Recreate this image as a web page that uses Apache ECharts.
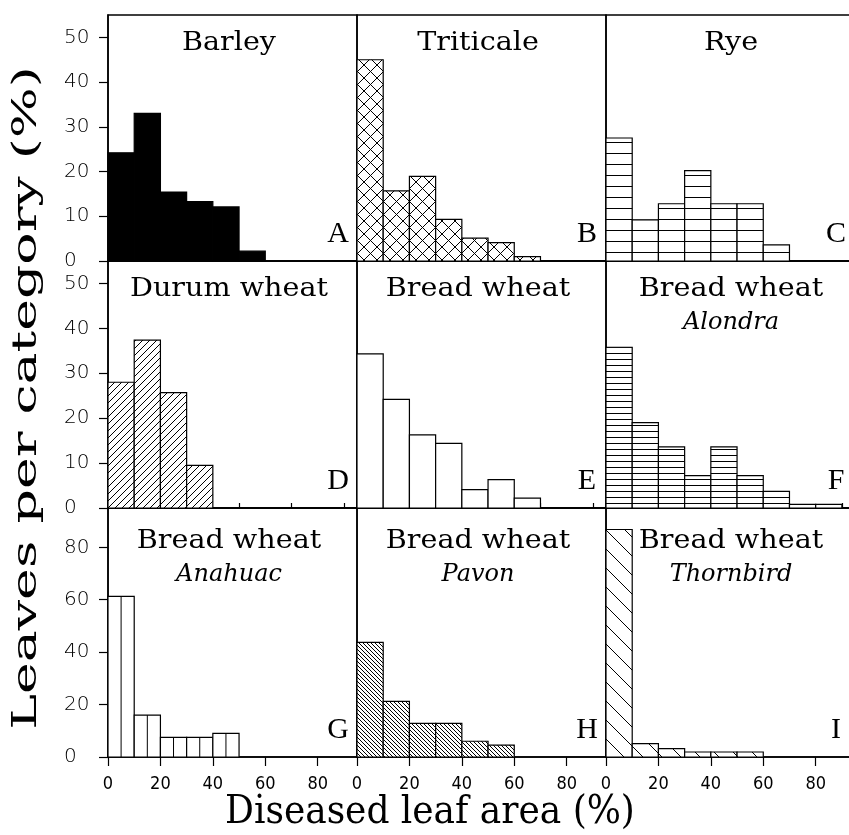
<!DOCTYPE html>
<html>
<head>
<meta charset="utf-8">
<script src="https://cdn.jsdelivr.net/npm/echarts@6.0.0/dist/echarts.min.js"></script>
<style>
  html, body { margin: 0; padding: 0; background: #fff; }
  #chart { width: 849px; height: 835px; }
</style>
</head>
<body>
<div id="chart"></div>
<script>
// leaves per category (%), one value per 10 % class of diseased leaf area
const binWidth = 10;
const barley = [24.2, 33, 15.4, 13.3, 12.1, 2.2];
const triticale = [45, 15.7, 18.9, 9.3, 5.1, 4.1, 1.0];
const rye = [27.5, 9.2, 12.8, 20.2, 12.8, 12.8, 3.6];
const durum = [28, 37.4, 25.7, 9.5];
const bread = [34.3, 24.2, 16.3, 14.4, 4.1, 6.3, 2.2];
const alondra = [35.8, 19, 13.6, 7.2, 13.6, 7.2, 3.7, 0.8, 0.8];
const anahuac = [61.3, 16, 7.5, 7.5, 9];
const pavon = [43.7, 21.2, 12.8, 12.8, 6, 4.5];
const thornbird = [86.8, 5.1, 3.2, 1.9, 1.9, 1.9];

const yTicksTop = [0, 10, 20, 30, 40, 50];
const yTicksBottom = [0, 20, 40, 60, 80];
const xTicks = [0, 20, 40, 60, 80];
const xMinorTicks = [10, 30, 50, 70, 90];

const panels = [
  { title: 'Barley', sub: '', letter: 'A', values: barley, hatch: 'solid' },
  { title: 'Triticale', sub: '', letter: 'B', values: triticale, hatch: 'cross' },
  { title: 'Rye', sub: '', letter: 'C', values: rye, hatch: 'horizWide' },
  { title: 'Durum wheat', sub: '', letter: 'D', values: durum, hatch: 'up' },
  { title: 'Bread wheat', sub: '', letter: 'E', values: bread, hatch: 'none' },
  { title: 'Bread wheat', sub: 'Alondra', letter: 'F', values: alondra, hatch: 'horizNarrow' },
  { title: 'Bread wheat', sub: 'Anahuac', letter: 'G', values: anahuac, hatch: 'vert' },
  { title: 'Bread wheat', sub: 'Pavon', letter: 'H', values: pavon, hatch: 'downDense' },
  { title: 'Bread wheat', sub: 'Thornbird', letter: 'I', values: thornbird, hatch: 'downWide' }
];

// layout
const colLeft = [108, 357, 606];
const rowTop = [15, 261, 508];
const rowH = [246, 247, 249];
const panelW = 249;
const rowMax = [55, 55, 95];
const titleDx = [121, 121, 125];

function hatchCanvas(kind, size) {
  const c = document.createElement('canvas');
  c.width = size; c.height = size;
  const g = c.getContext('2d');
  g.fillStyle = '#fff';
  g.fillRect(0, 0, size, size);
  g.strokeStyle = '#000';
  g.lineWidth = 1;
  g.beginPath();
  if (kind === 'up' || kind === 'cross') {
    for (const o of [-size, 0, size]) { g.moveTo(o, size); g.lineTo(o + size, 0); }
  }
  if (kind === 'down' || kind === 'cross') {
    for (const o of [-size, 0, size]) { g.moveTo(o, 0); g.lineTo(o + size, size); }
  }
  if (kind === 'horiz') {
    g.moveTo(0, size - 0.5); g.lineTo(size, size - 0.5);
  }
  g.stroke();
  return { image: c, repeat: 'repeat' };
}

const fills = {
  solid: '#000',
  none: '#fff',
  vert: '#fff',
  cross: hatchCanvas('cross', 13),
  horizWide: hatchCanvas('horiz', 11),
  horizNarrow: hatchCanvas('horiz', 6),
  up: hatchCanvas('up', 7),
  downDense: hatchCanvas('down', 4),
  downWide: hatchCanvas('down', 19)
};

function renderHist(hatch) {
  return function (params, api) {
    const x0 = api.value(0), x1 = api.value(1), y = api.value(2);
    const p0 = api.coord([x0, y]);
    const p1 = api.coord([x1, 0]);
    const children = [{
      type: 'rect',
      shape: { x: p0[0], y: p0[1], width: p1[0] - p0[0], height: p1[1] - p0[1] },
      style: { fill: fills[hatch], stroke: '#000', lineWidth: 1.2 }
    }];
    if (hatch === 'vert') {
      // vertical lines every 5 %
      const m = api.coord([(x0 + x1) / 2, y]);
      children.push({
        type: 'line',
        shape: { x1: m[0], y1: p0[1], x2: m[0], y2: p1[1] },
        style: { stroke: '#000', lineWidth: 1 }
      });
    }
    return { type: 'group', children: children };
  };
}

const grid = [], xAxis = [], yAxis = [], series = [], graphic = [];
const tickFont = { color: '#000', fontFamily: 'DejaVu Sans', fontWeight: 200, fontSize: 20 };

panels.forEach(function (p, i) {
  const r = Math.floor(i / 3), c = i % 3;
  grid.push({
    left: colLeft[c], top: rowTop[r], width: panelW, height: rowH[r],
    show: true, borderColor: '#000', borderWidth: 1.5, backgroundColor: 'transparent',
    containLabel: false, outerBoundsMode: 'none'
  });
  const bottom = r === 2;
  xAxis.push({
    type: 'value', gridIndex: i, min: 0, max: 95,
    splitLine: { show: false },
    axisLine: { show: true, lineStyle: { color: '#000', width: 1.5 } },
    axisTick: { show: bottom, length: 9, lineStyle: { color: '#000', width: 1.2 }, customValues: xTicks },
    axisLabel: {
      show: bottom, margin: 18, customValues: xTicks,
      color: '#000', fontFamily: 'DejaVu Sans Condensed', fontWeight: 200, fontSize: 18
    }
  });
  yAxis.push({
    type: 'value', gridIndex: i, min: 0, max: rowMax[r],
    splitLine: { show: false },
    axisLine: { show: c === 0, lineStyle: { color: '#000', width: 1.5 } },
    axisTick: { show: c === 0, length: 9, lineStyle: { color: '#000', width: 1.2 },
      customValues: bottom ? yTicksBottom : yTicksTop },
    axisLabel: Object.assign({ show: c === 0, align: 'left', margin: 44,
      customValues: bottom ? yTicksBottom : yTicksTop }, tickFont)
  });
  series.push({
    type: 'custom', xAxisIndex: i, yAxisIndex: i,
    renderItem: renderHist(p.hatch),
    encode: { x: [0, 1], y: 2 },
    data: p.values.map(function (v, k) { return [k * binWidth, (k + 1) * binWidth, v]; }),
    silent: true, animation: false
  });

  // panel texts
  const cx = colLeft[c] + titleDx[c];
  graphic.push({
    type: 'text', x: cx, y: rowTop[r] + (r === 2 ? 33 : 28), scaleX: 1.1,
    style: { text: p.title, font: '26px "DejaVu Serif"', fill: '#000', align: 'center', verticalAlign: 'middle' }
  });
  if (p.sub) {
    graphic.push({
      type: 'text', x: cx, y: rowTop[r] + (r === 2 ? 67 : 62),
      style: { text: p.sub, font: 'italic 24px "DejaVu Serif"', fill: '#000', align: 'center', verticalAlign: 'middle' }
    });
  }
  graphic.push({
    type: 'text', x: colLeft[c] + 230, y: rowTop[r] + rowH[r] - 27,
    style: { text: p.letter, font: '30px "Liberation Serif"', fill: '#000', align: 'center', verticalAlign: 'middle' }
  });
});

// minor ticks of the bottom row
[6, 7, 8].forEach(function (i) {
  xAxis.push({
    type: 'value', gridIndex: i, min: 0, max: 95,
    splitLine: { show: false }, axisLine: { show: false }, axisLabel: { show: false },
    axisTick: { show: true, length: 5, lineStyle: { color: '#000', width: 1.2 }, customValues: xMinorTicks }
  });
});

graphic.push({
  type: 'text', x: 27, y: 398, rotation: Math.PI / 2, scaleX: 1.58,
  style: { text: 'Leaves per category (%)', font: '34px "DejaVu Serif"', fill: '#000', align: 'center', verticalAlign: 'middle' }
});
graphic.push({
  type: 'text', x: 430, y: 813,
  style: { text: 'Diseased leaf area (%)', font: '40px "DejaVu Serif Condensed"', fill: '#000', align: 'center', verticalAlign: 'middle' }
});

const chart = echarts.init(document.getElementById('chart'), null, { renderer: 'canvas' });
chart.setOption({
  animation: false,
  backgroundColor: '#fff',
  grid: grid,
  xAxis: xAxis,
  yAxis: yAxis,
  series: series,
  graphic: graphic
});
</script>
</body>
</html>
